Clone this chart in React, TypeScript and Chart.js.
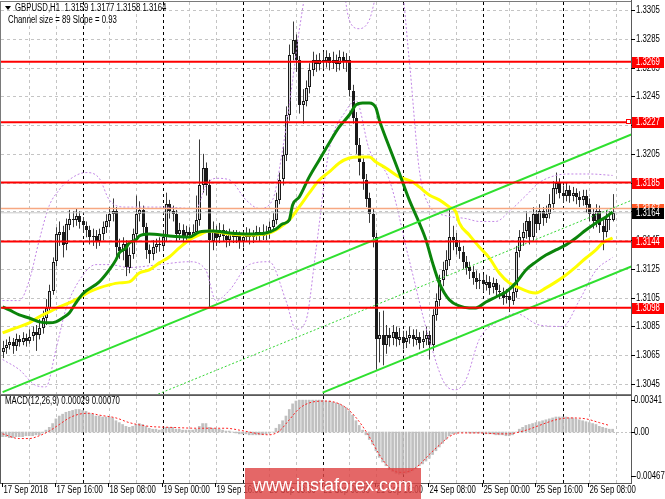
import React, { useEffect, useRef } from "react";
import { Chart, registerables } from "chart.js";

Chart.register(...registerables);

// ---------------- DATA ----------------
const HEADER = "GBPUSD,H1  1.3159 1.3177 1.3158 1.3164";
const SUBHEADER = "Channel size = 89 Slope = 0.93";
const MACD_TITLE = "MACD(12,26,9) 0.00029 0.00070";

const TIME_LABELS = [
  "17 Sep 2018", "17 Sep 16:00", "18 Sep 08:00", "19 Sep 00:00", "19 Sep 16:00", "20 Sep 08:00",
  "21 Sep 00:00", "21 Sep 16:00", "24 Sep 08:00", "25 Sep 00:00", "25 Sep 16:00", "26 Sep 08:00",
];
const TIME_LABEL_BARS = [0, 16, 32, 48, 64, 80, 96, 112, 128, 144, 160, 176];

const PRICE_TICKS = [1.3305, 1.3285, 1.3265, 1.3245, 1.3225, 1.3205, 1.3185, 1.3165, 1.3145, 1.3125, 1.3105, 1.3085, 1.3065, 1.3045];
const MACD_TICKS = [0.00341, 0.0, -0.00467];
const MACD_TICK_LABELS = ["0.00341", "0.00", "-0.00467"];

const LEVELS = [1.3269, 1.3227, 1.3185, 1.3144, 1.3098];
const ASK_LEVEL = 1.3167;
const BID_LEVEL = 1.3164;

const FIRST_OPEN = 1.3067;
const CLOSE = [
  1.3070, 1.3072, 1.3074, 1.3071, 1.3076, 1.3074, 1.3077, 1.3075, 1.3078, 1.3081,
  1.3079, 1.3084, 1.3091, 1.3098, 1.3110, 1.3130, 1.3149, 1.3151, 1.3142, 1.3156,
  1.3160, 1.3159, 1.3162, 1.3158, 1.3155, 1.3152, 1.3147, 1.3148, 1.3144, 1.3149,
  1.3154, 1.3158, 1.3163, 1.3165, 1.3140, 1.3137, 1.3142, 1.3126, 1.3135, 1.3149,
  1.3163, 1.3166, 1.3154, 1.3138, 1.3135, 1.3140, 1.3142, 1.3141, 1.3147, 1.3170,
  1.3165, 1.3163, 1.3149, 1.3152, 1.3147, 1.3151, 1.3149, 1.3151, 1.3159, 1.3183,
  1.3195, 1.3183, 1.3145, 1.3151, 1.3147, 1.3152, 1.3148, 1.3145, 1.3149, 1.3147,
  1.3148, 1.3144, 1.3147, 1.3149, 1.3147, 1.3148, 1.3151, 1.3148, 1.3151, 1.3149,
  1.3154, 1.3159, 1.3173, 1.3187, 1.3204, 1.3232, 1.3274, 1.3284, 1.3270, 1.3239,
  1.3242, 1.3251, 1.3263, 1.3270, 1.3267, 1.3270, 1.3269, 1.3272, 1.3268, 1.3270,
  1.3267, 1.3272, 1.3269, 1.3270, 1.3249, 1.3230, 1.3211, 1.3199, 1.3187, 1.3174,
  1.3163, 1.3147, 1.3076, 1.3079, 1.3072, 1.3079, 1.3077, 1.3081, 1.3076, 1.3078,
  1.3074, 1.3077, 1.3079, 1.3076, 1.3078, 1.3074, 1.3076, 1.3079, 1.3072, 1.3093,
  1.3103, 1.3117, 1.3124, 1.3131, 1.3147, 1.3145, 1.3140, 1.3137, 1.3130, 1.3126,
  1.3123, 1.3119, 1.3116, 1.3117, 1.3114, 1.3116, 1.3112, 1.3115, 1.3110, 1.3109,
  1.3105, 1.3106, 1.3103, 1.3109, 1.3137, 1.3147, 1.3151, 1.3158, 1.3147, 1.3163,
  1.3156, 1.3165, 1.3160, 1.3163, 1.3170, 1.3181, 1.3185, 1.3178, 1.3176, 1.3180,
  1.3176, 1.3178, 1.3175, 1.3173, 1.3176, 1.3170, 1.3163, 1.3158, 1.3165, 1.3155,
  1.3151, 1.3160, 1.3159, 1.3164,
];
const HIGH = [
  1.3075, 1.3076, 1.3078, 1.3077, 1.3080, 1.3079, 1.3081, 1.3080, 1.3083, 1.3085,
  1.3086, 1.3090, 1.3096, 1.3104, 1.3114, 1.3133, 1.3154, 1.3158, 1.3155, 1.3160,
  1.3166, 1.3165, 1.3167, 1.3165, 1.3161, 1.3158, 1.3155, 1.3153, 1.3152, 1.3153,
  1.3158, 1.3163, 1.3168, 1.3174, 1.3168, 1.3146, 1.3147, 1.3145, 1.3140, 1.3153,
  1.3176, 1.3172, 1.3169, 1.3157, 1.3142, 1.3145, 1.3146, 1.3147, 1.3152, 1.3178,
  1.3173, 1.3169, 1.3166, 1.3157, 1.3156, 1.3155, 1.3154, 1.3156, 1.3176, 1.3215,
  1.3205, 1.3199, 1.3187, 1.3158, 1.3155, 1.3157, 1.3156, 1.3152, 1.3153, 1.3152,
  1.3152, 1.3151, 1.3151, 1.3154, 1.3153, 1.3152, 1.3155, 1.3154, 1.3156, 1.3155,
  1.3158, 1.3164, 1.3178, 1.3192, 1.3210, 1.3238, 1.3281, 1.3297, 1.3288, 1.3273,
  1.3250, 1.3256, 1.3268, 1.3276, 1.3274, 1.3275, 1.3276, 1.3277, 1.3275, 1.3276,
  1.3274, 1.3277, 1.3276, 1.3275, 1.3273, 1.3253, 1.3234, 1.3216, 1.3203, 1.3191,
  1.3178, 1.3167, 1.3150, 1.3095, 1.3096, 1.3086, 1.3084, 1.3086, 1.3085, 1.3084,
  1.3082, 1.3082, 1.3085, 1.3083, 1.3083, 1.3081, 1.3082, 1.3085, 1.3082, 1.3097,
  1.3108, 1.3121, 1.3130, 1.3138, 1.3166, 1.3155, 1.3150, 1.3145, 1.3141, 1.3134,
  1.3130, 1.3127, 1.3124, 1.3122, 1.3121, 1.3121, 1.3120, 1.3119, 1.3118, 1.3114,
  1.3112, 1.3111, 1.3110, 1.3114, 1.3141, 1.3152, 1.3157, 1.3165, 1.3161, 1.3168,
  1.3166, 1.3170, 1.3168, 1.3169, 1.3177, 1.3186, 1.3192, 1.3188, 1.3183, 1.3185,
  1.3183, 1.3182, 1.3181, 1.3179, 1.3180, 1.3180, 1.3174, 1.3167, 1.3170, 1.3169,
  1.3160, 1.3166, 1.3165, 1.3177,
];
const LOW = [
  1.3063, 1.3066, 1.3069, 1.3066, 1.3068, 1.3071, 1.3072, 1.3071, 1.3073, 1.3075,
  1.3068, 1.3076, 1.3080, 1.3086, 1.3095, 1.3107, 1.3127, 1.3141, 1.3133, 1.3138,
  1.3152, 1.3154, 1.3155, 1.3153, 1.3150, 1.3147, 1.3142, 1.3141, 1.3139, 1.3141,
  1.3145, 1.3150, 1.3154, 1.3158, 1.3134, 1.3132, 1.3131, 1.3120, 1.3122, 1.3132,
  1.3146, 1.3158, 1.3150, 1.3132, 1.3129, 1.3131, 1.3136, 1.3137, 1.3138, 1.3144,
  1.3160, 1.3158, 1.3144, 1.3145, 1.3142, 1.3143, 1.3145, 1.3146, 1.3148, 1.3155,
  1.3178, 1.3176, 1.3098, 1.3138, 1.3141, 1.3143, 1.3144, 1.3140, 1.3141, 1.3143,
  1.3143, 1.3139, 1.3140, 1.3144, 1.3142, 1.3143, 1.3145, 1.3144, 1.3145, 1.3145,
  1.3146, 1.3151, 1.3156, 1.3170, 1.3183, 1.3200, 1.3228, 1.3270, 1.3262, 1.3233,
  1.3226, 1.3238, 1.3247, 1.3259, 1.3262, 1.3263, 1.3264, 1.3265, 1.3263, 1.3264,
  1.3262, 1.3263, 1.3264, 1.3262, 1.3245, 1.3226, 1.3205, 1.3190, 1.3180, 1.3168,
  1.3157, 1.3140, 1.3055, 1.3060, 1.3058, 1.3066, 1.3071, 1.3072, 1.3071, 1.3072,
  1.3069, 1.3070, 1.3073, 1.3071, 1.3072, 1.3069, 1.3070, 1.3072, 1.3062, 1.3068,
  1.3089, 1.3099, 1.3113, 1.3120, 1.3127, 1.3138, 1.3135, 1.3132, 1.3125, 1.3121,
  1.3118, 1.3114, 1.3111, 1.3111, 1.3109, 1.3110, 1.3107, 1.3108, 1.3105, 1.3104,
  1.3100, 1.3101, 1.3095, 1.3100, 1.3105, 1.3133, 1.3141, 1.3146, 1.3142, 1.3144,
  1.3150, 1.3152, 1.3155, 1.3157, 1.3160, 1.3166, 1.3177, 1.3174, 1.3171, 1.3172,
  1.3171, 1.3172, 1.3170, 1.3168, 1.3169, 1.3164, 1.3158, 1.3153, 1.3154, 1.3150,
  1.3138, 1.3147, 1.3152, 1.3158,
];

// Green (fast) moving average, read at bar indices
const GREEN_MA_BARS = [0, 2, 5, 8, 11, 14, 16, 18, 20, 22, 24, 29, 32, 34, 35, 37, 38, 40, 41, 44, 50, 56, 59, 63, 68, 74, 79, 82, 84, 86, 87, 89, 92, 95, 98, 101, 104, 106, 108, 110, 112, 113, 116, 119, 122, 125, 127, 129, 131, 134, 137, 140, 142, 145, 148, 151, 154, 157, 160, 163, 166, 169, 172, 175, 178, 181, 183];
const GREEN_MA = [1.30986, 1.30965, 1.3093, 1.30909, 1.30882, 1.30875, 1.30882, 1.30909, 1.30944, 1.31014, 1.31076, 1.3116, 1.31243, 1.31313, 1.31361, 1.31396, 1.31431, 1.31452, 1.31479, 1.31493, 1.31479, 1.31472, 1.31507, 1.31514, 1.315, 1.31493, 1.315, 1.31528, 1.31563, 1.3159, 1.31695, 1.3175, 1.3189, 1.32008, 1.32126, 1.32237, 1.3232, 1.3239, 1.32404, 1.32404, 1.32369, 1.32286, 1.32098, 1.31917, 1.3173, 1.3157, 1.31452, 1.31292, 1.31153, 1.31035, 1.30993, 1.30979, 1.30979, 1.3102, 1.31055, 1.3109, 1.31153, 1.31243, 1.31299, 1.31347, 1.31382, 1.31417, 1.31465, 1.31521, 1.3157, 1.31611, 1.31646];

// Yellow (slow) moving average
const YELLOW_MA_BARS = [0, 4, 8, 11, 14, 17, 20, 23, 26, 29, 32, 35, 38, 41, 44, 47, 50, 53, 56, 59, 62, 68, 74, 80, 83, 86, 89, 92, 95, 98, 101, 104, 107, 110, 112, 115, 119, 123, 125, 128, 131, 134, 136, 137, 140, 143, 146, 149, 152, 155, 158, 160, 163, 166, 169, 172, 175, 178, 180, 183];
const YELLOW_MA = [1.30805, 1.3084, 1.30875, 1.30917, 1.30951, 1.30986, 1.31014, 1.31049, 1.3109, 1.31118, 1.31139, 1.31153, 1.3116, 1.31222, 1.31243, 1.31292, 1.31333, 1.31396, 1.31452, 1.31486, 1.31514, 1.31493, 1.31486, 1.315, 1.31535, 1.3159, 1.31681, 1.31778, 1.31868, 1.31924, 1.31987, 1.32021, 1.32028, 1.32028, 1.31993, 1.31952, 1.3189, 1.31855, 1.3182, 1.31764, 1.3173, 1.31681, 1.31646, 1.3157, 1.31486, 1.31403, 1.31327, 1.31222, 1.31153, 1.31118, 1.3109, 1.31083, 1.31118, 1.3116, 1.31208, 1.31264, 1.31326, 1.31382, 1.31431, 1.31465];

// Bollinger-type envelope (dotted violet)
const BAND_UP_BARS = [0, 5, 8, 11, 14, 17, 20, 25, 29, 32, 37, 47, 58, 61, 64, 68, 73, 77, 81, 84, 87, 89, 92, 101, 104, 107, 110, 113, 119, 122, 125, 128, 133, 139, 143, 148, 152, 157, 161, 166, 170, 176, 183];
const BAND_UP = [1.3103, 1.3103, 1.3117, 1.3145, 1.3169, 1.318, 1.3187, 1.3192, 1.3188, 1.3173, 1.3168, 1.3168, 1.3167, 1.3183, 1.3188, 1.3187, 1.3173, 1.3167, 1.3173, 1.3208, 1.3256, 1.3291, 1.3326, 1.3333, 1.3298, 1.3292, 1.3298, 1.3322, 1.3329, 1.327, 1.3194, 1.3169, 1.3162, 1.316, 1.3158, 1.3158, 1.3165, 1.3176, 1.3185, 1.319, 1.3191, 1.3191, 1.319];
const BAND_LO_BARS = [0, 5, 10, 13, 16, 19, 23, 28, 32, 38, 47, 56, 61, 64, 68, 74, 80, 85, 88, 91, 94, 98, 103, 106, 110, 116, 122, 128, 133, 136, 139, 143, 149, 154, 161, 168, 173, 178, 183];
const BAND_LO = [1.3062, 1.3055, 1.3044, 1.3043, 1.3069, 1.3097, 1.3117, 1.3128, 1.3128, 1.3126, 1.3128, 1.313, 1.3124, 1.3103, 1.311, 1.3128, 1.313, 1.3103, 1.3083, 1.3089, 1.3138, 1.3208, 1.3235, 1.3242, 1.3208, 1.3187, 1.3131, 1.3076, 1.3044, 1.3041, 1.3048, 1.3076, 1.3089, 1.3094, 1.3086, 1.3085, 1.3103, 1.3124, 1.3133];

// Regression channel (Channel size = 89)
const CHANNEL_BARS = [0, 189];
const CHANNEL_UPPER = [1.30394, 1.32188];
const CHANNEL_LOWER_BARS = [96, 189];
const CHANNEL_LOWER = [1.3039, 1.31271];
const CHANNEL_MID_BARS = [40, 189];
const CHANNEL_MID = [1.30317, 1.3173];

// MACD main (histogram) per bar
const MACD_HIST = [
  -0.0005, -0.0005, -0.0006, -0.0006, -0.0005, -0.0005, -0.0005, -0.0004, -0.0004, -0.0004,
  -0.0003, -0.0003, -0.0001, 0.0002, 0.0005, 0.0009, 0.0014, 0.0017, 0.0019, 0.0021,
  0.0022, 0.0023, 0.0024, 0.0024, 0.0023, 0.0022, 0.0020, 0.0019, 0.0017, 0.0017,
  0.0016, 0.0016, 0.0016, 0.0015, 0.0012, 0.0010, 0.0008, 0.0006, 0.0005, 0.0006,
  0.0008, 0.0009, 0.0008, 0.0006, 0.0004, 0.0003, 0.0003, 0.0002, 0.0003, 0.0005,
  0.0005, 0.0005, 0.0003, 0.0003, 0.0002, 0.0002, 0.0002, 0.0002, 0.0003, 0.0006,
  0.0009, 0.0009, 0.0005, 0.0004, 0.0003, 0.0003, 0.0002, 0.0001, 0.0001, 0.0000,
  -0.0001, -0.0002, -0.0002, -0.0002, -0.0003, -0.0003, -0.0003, -0.0003, -0.0003, -0.0002,
  -0.0001, 0.0000, 0.0004, 0.0008, 0.0012, 0.0017, 0.0024, 0.0030, 0.0033, 0.0034,
  0.0034, 0.0034, 0.0034, 0.0034, 0.0034, 0.0034, 0.0034, 0.0033, 0.0033, 0.0032,
  0.0031, 0.0030, 0.0028, 0.0026, 0.0022, 0.0018, 0.0012, 0.0007, 0.0002, -0.0003,
  -0.0008, -0.0013, -0.0020, -0.0027, -0.0032, -0.0036, -0.0040, -0.0042, -0.0044, -0.0045,
  -0.0045, -0.0044, -0.0043, -0.0041, -0.0039, -0.0036, -0.0034, -0.0031, -0.0028, -0.0024,
  -0.0020, -0.0016, -0.0012, -0.0008, -0.0004, -0.0002, -0.0001, 0.0000, 0.0000, 0.0000,
  -0.0001, -0.0001, -0.0001, -0.0001, -0.0001, -0.0002, -0.0002, -0.0002, -0.0003, -0.0003,
  -0.0003, -0.0004, -0.0004, -0.0003, 0.0000, 0.0003, 0.0005, 0.0007, 0.0008, 0.0009,
  0.0010, 0.0011, 0.0012, 0.0013, 0.0014, 0.0015, 0.0016, 0.0016, 0.0016, 0.0016,
  0.0015, 0.0015, 0.0014, 0.0013, 0.0012, 0.0011, 0.0010, 0.0009, 0.0008, 0.0006,
  0.0005, 0.0004, 0.0003, 0.0003,
];
const SIGNAL_BARS = [0, 5, 8, 11, 14, 17, 20, 23, 26, 29, 34, 38, 44, 50, 59, 67, 71, 77, 80, 83, 86, 89, 92, 97, 101, 104, 107, 110, 113, 116, 119, 122, 125, 128, 131, 134, 137, 143, 149, 152, 155, 158, 161, 166, 170, 175, 179, 182];
const SIGNAL = [-0.0002, -0.0007, -0.0007, -0.0004, 0.0001, 0.0008, 0.0015, 0.0019, 0.002, 0.0018, 0.0015, 0.001, 0.0006, 0.0005, 0.0004, 0.0004, 0.0002, -0.0002, -0.0003, 0.0001, 0.0013, 0.0025, 0.0031, 0.0033, 0.003, 0.0023, 0.0011, -0.0005, -0.0024, -0.0038, -0.0043, -0.0042, -0.0035, -0.0024, -0.0014, -0.0005, -0.0001, -0.0001, -0.0002, -0.0002, 0.0, 0.0003, 0.0007, 0.0013, 0.0015, 0.0014, 0.001, 0.0007];

// ---------------- LAYOUT CONSTANTS ----------------
const W = 665;
const MAIN_H = 395;
const MACD_H = 104;
const X_MIN = -0.48;
const X_MAX = 188.52;
const Y_MIN = 1.303805;
const Y_MAX = 1.331056;
const M_MIN = -0.005437;
const M_MAX = 0.003837;
const FONT = '10px "Liberation Sans", Arial, sans-serif';
const SX = 0.78;

const pts = (xs: number[], ys: number[]) => xs.map((x, k) => ({ x, y: ys[k] }));
const hline = (v: number) => [{ x: X_MIN, y: v }, { x: X_MAX, y: v }];

function text(ctx: CanvasRenderingContext2D, s: string, x: number, y: number, color = "#000", font = FONT, sx = SX) {
  ctx.save();
  ctx.font = font;
  ctx.fillStyle = color;
  ctx.textAlign = "left";
  ctx.textBaseline = "middle";
  ctx.translate(x, y);
  ctx.scale(sx, 1);
  ctx.fillText(s, 0, 0);
  ctx.restore();
}

function seg(ctx: CanvasRenderingContext2D, x1: number, y1: number, x2: number, y2: number) {
  ctx.beginPath();
  ctx.moveTo(x1, y1);
  ctx.lineTo(x2, y2);
  ctx.stroke();
}

function drawVerticalGrid(chart: any) {
  const { ctx, chartArea: a, scales } = chart;
  const x = scales.x;
  ctx.save();
  ctx.lineWidth = 1;
  ctx.setLineDash([3, 3]);
  for (let i = 8; i < X_MAX; i += 8) {
    const px = Math.round(x.getPixelForValue(i)) + 0.5;
    ctx.strokeStyle = i % 24 === 0 ? "#000000" : "#c4c4c4";
    seg(ctx, px, a.top, px, a.bottom);
  }
  ctx.restore();
}

const mainPlugin = {
  id: "mainDecor",
  beforeDraw(chart: any) {
    const { ctx, chartArea: a, scales } = chart;
    const y = scales.y;
    ctx.save();
    ctx.fillStyle = "#ffffff";
    ctx.fillRect(0, 0, chart.width, chart.height);
    ctx.lineWidth = 1;
    ctx.setLineDash([3, 3]);
    ctx.strokeStyle = "#c4c4c4";
    for (const p of PRICE_TICKS) {
      const py = Math.round(y.getPixelForValue(p)) + 0.5;
      seg(ctx, a.left, py, a.right, py);
    }
    ctx.restore();
    drawVerticalGrid(chart);
  },
  beforeDatasetsDraw(chart: any) {
    const { ctx, chartArea: a, scales } = chart;
    const x = scales.x;
    const y = scales.y;
    ctx.save();
    ctx.beginPath();
    ctx.rect(a.left, a.top, a.right - a.left, a.bottom - a.top);
    ctx.clip();
    ctx.setLineDash([]);
    ctx.lineWidth = 1;
    for (let i = 0; i < CLOSE.length; i++) {
      const o = i === 0 ? FIRST_OPEN : CLOSE[i - 1];
      const c = CLOSE[i];
      const px = Math.round(x.getPixelForValue(i));
      const yh = y.getPixelForValue(HIGH[i]);
      const yl = y.getPixelForValue(LOW[i]);
      const yo = y.getPixelForValue(o);
      const yc = y.getPixelForValue(c);
      ctx.strokeStyle = "#3a3a3a";
      seg(ctx, px + 0.5, yh, px + 0.5, yl);
      const top = Math.round(Math.min(yo, yc));
      const h = Math.max(1, Math.round(Math.abs(yo - yc)));
      ctx.fillStyle = "#1a1a1a";
      ctx.fillRect(px - 1, top, 3, h);
      if (c > o && h > 2) {
        ctx.fillStyle = "#d8d8d8";
        ctx.fillRect(px, top + 1, 1, h - 2);
      }
    }
    ctx.restore();
  },
  afterDraw(chart: any) {
    const { ctx, chartArea: a, scales } = chart;
    const y = scales.y;
    ctx.save();
    // frame
    ctx.setLineDash([]);
    ctx.strokeStyle = "#7a7a7a";
    ctx.lineWidth = 1;
    ctx.strokeRect(a.left - 0.5, a.top - 0.5, a.right - a.left + 1, a.bottom - a.top + 1);
    ctx.fillStyle = "#ffffff";
    ctx.fillRect(a.right + 1, 0, chart.width - a.right, chart.height);
    ctx.strokeStyle = "#5a5a5a";
    seg(ctx, a.right + 0.5, 0, a.right + 0.5, chart.height);
    // right price ticks
    ctx.strokeStyle = "#000";
    for (const p of PRICE_TICKS) {
      const py = Math.round(y.getPixelForValue(p)) + 0.5;
      seg(ctx, a.right, py, a.right + 4, py);
      text(ctx, p.toFixed(4), a.right + 5, py);
    }
    // ask label (orange) and bid label (black)
    const box = (v: number, bg: string) => {
      const py = y.getPixelForValue(v);
      ctx.fillStyle = bg;
      ctx.fillRect(a.right + 1, Math.round(py) - 5, chart.width - a.right - 2, 11);
      text(ctx, v.toFixed(4), a.right + 5, Math.round(py) + 0.5, "#ffffff");
    };
    box(ASK_LEVEL, "#ff5a28");
    box(BID_LEVEL, "#000000");
    for (const v of LEVELS) box(v, "#ff0000");
    // small square marker at 1.3227
    const sq = y.getPixelForValue(LEVELS[1]);
    ctx.fillStyle = "#fff";
    ctx.strokeStyle = "#ff0000";
    ctx.lineWidth = 1;
    ctx.fillRect(a.right - 4, Math.round(sq) - 2, 4, 4);
    ctx.strokeRect(a.right - 4.5, Math.round(sq) - 2.5, 4, 4);
    // header
    ctx.fillStyle = "#000";
    ctx.beginPath();
    ctx.moveTo(5, 6);
    ctx.lineTo(11, 6);
    ctx.lineTo(8, 10);
    ctx.closePath();
    ctx.fill();
    text(ctx, HEADER, 15, 8.5);
    text(ctx, SUBHEADER, 8, 20);
    ctx.restore();
  },
};

const macdPlugin = {
  id: "macdDecor",
  beforeDraw(chart: any) {
    const { ctx, chartArea: a, scales } = chart;
    const y = scales.y;
    ctx.save();
    ctx.fillStyle = "#ffffff";
    ctx.fillRect(0, 0, chart.width, chart.height);
    ctx.restore();
    drawVerticalGrid(chart);
    ctx.save();
    ctx.setLineDash([2, 2]);
    ctx.strokeStyle = "#c4c4c4";
    const zy = Math.round(y.getPixelForValue(0)) + 0.5;
    seg(ctx, a.left, zy, a.right, zy);
    ctx.restore();
  },
  afterDraw(chart: any) {
    const { ctx, chartArea: a, scales } = chart;
    const x = scales.x;
    const y = scales.y;
    ctx.save();
    ctx.setLineDash([]);
    ctx.lineWidth = 1;
    ctx.strokeStyle = "#5a5a5a";
    ctx.strokeRect(a.left - 0.5, 0.5, a.right - a.left + 1, a.bottom);
    ctx.fillStyle = "#fff";
    ctx.fillRect(a.right + 1, 0, chart.width - a.right, a.bottom + 1);
    seg(ctx, a.right + 0.5, 0, a.right + 0.5, a.bottom + 1);
    ctx.strokeStyle = "#000";
    MACD_TICKS.forEach((v, k) => {
      const py = Math.round(y.getPixelForValue(v)) + 0.5;
      seg(ctx, a.right, py, a.right + 4, py);
      text(ctx, MACD_TICK_LABELS[k], a.right + 3, py);
    });
    text(ctx, MACD_TITLE, 5, 6);
    // time axis
    TIME_LABEL_BARS.forEach((b, k) => {
      const px = Math.round(x.getPixelForValue(b)) - 0.5;
      seg(ctx, px, a.bottom, px, a.bottom + 4);
      text(ctx, TIME_LABELS[k], px + 1, a.bottom + 7);
    });
    // watermark
    ctx.fillStyle = "rgba(222, 70, 70, 0.82)";
    ctx.fillRect(245, 73, 176, 31);
    ctx.font = '18px "Liberation Sans", Arial, sans-serif';
    ctx.fillStyle = "#ffffff";
    ctx.textBaseline = "middle";
    ctx.textAlign = "center";
    ctx.fillText("www.instaforex.com", 333, 91);
    ctx.restore();
  },
};

export default function App() {
  const mainRef = useRef<HTMLCanvasElement | null>(null);
  const macdRef = useRef<HTMLCanvasElement | null>(null);

  useEffect(() => {
    const line = (data: any[], color: string, width: number, dash: number[] = [], smooth = false) => ({
      data,
      borderColor: color,
      borderWidth: width,
      borderDash: dash,
      pointRadius: 0,
      fill: false,
      cubicInterpolationMode: smooth ? "monotone" : "default",
      clip: 0,
    });

    const mainDatasets: any[] = [
      ...LEVELS.map((v) => line(hline(v), "#ff0000", 2)),
      line(pts(CHANNEL_BARS, CHANNEL_UPPER), "#2fe02f", 2),
      line(pts(CHANNEL_LOWER_BARS, CHANNEL_LOWER), "#2fe02f", 2),
      line(pts(CHANNEL_MID_BARS, CHANNEL_MID), "#33d633", 1, [2, 2]),
      line(pts(GREEN_MA_BARS, GREEN_MA), "#0b840b", 3, [], true),
      line(pts(YELLOW_MA_BARS, YELLOW_MA), "#ffff00", 3, [], true),
      line(hline(ASK_LEVEL), "#f7a882", 1.5),
      line(hline(BID_LEVEL), "#c8c8c8", 1),
      line(pts(BAND_UP_BARS, BAND_UP), "#c387e6", 1, [2, 2], true),
      line(pts(BAND_LO_BARS, BAND_LO), "#c387e6", 1, [2, 2], true),
    ];

    const main = new Chart(mainRef.current as HTMLCanvasElement, {
      type: "line",
      data: { datasets: mainDatasets },
      options: {
        animation: false,
        responsive: false,
        devicePixelRatio: 1,
        layout: { padding: { left: 1, right: 34, top: 2, bottom: 1 } },
        scales: {
          x: { type: "linear", min: X_MIN, max: X_MAX, display: false },
          y: { type: "linear", min: Y_MIN, max: Y_MAX, display: false },
        },
        plugins: { legend: { display: false }, tooltip: { enabled: false } },
      } as any,
      plugins: [mainPlugin],
    });

    const macd = new Chart(macdRef.current as HTMLCanvasElement, {
      type: "bar",
      data: {
        datasets: [
          {
            type: "line",
            data: pts(SIGNAL_BARS, SIGNAL),
            borderColor: "#ff2020",
            borderWidth: 1,
            borderDash: [2, 2],
            pointRadius: 0,
            cubicInterpolationMode: "monotone",
            clip: 0,
          } as any,
          {
            type: "bar",
            data: MACD_HIST.map((v, i) => ({ x: i, y: v })),
            backgroundColor: "#c0c0c0",
            barThickness: 2,
            clip: 0,
          } as any,
        ],
      },
      options: {
        animation: false,
        responsive: false,
        devicePixelRatio: 1,
        layout: { padding: { left: 1, right: 34, top: 1, bottom: 16 } },
        scales: {
          x: { type: "linear", min: X_MIN, max: X_MAX, display: false, offset: false },
          y: { type: "linear", min: M_MIN, max: M_MAX, display: false },
        },
        plugins: { legend: { display: false }, tooltip: { enabled: false } },
      } as any,
      plugins: [macdPlugin],
    });

    return () => {
      main.destroy();
      macd.destroy();
    };
  }, []);

  return (
    <div style={{ position: "absolute", left: 0, top: 0, width: W, height: MAIN_H + MACD_H, background: "#fff" }}>
      <canvas ref={mainRef} width={W} height={MAIN_H} style={{ position: "absolute", left: 0, top: 0, width: W, height: MAIN_H }} />
      <canvas ref={macdRef} width={W} height={MACD_H} style={{ position: "absolute", left: 0, top: MAIN_H, width: W, height: MACD_H }} />
    </div>
  );
}
